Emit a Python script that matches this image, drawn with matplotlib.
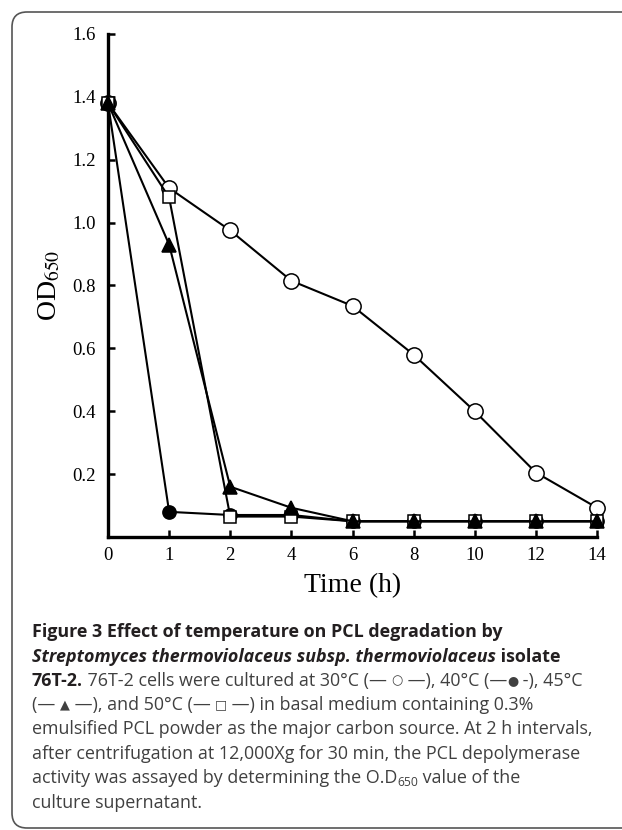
import matplotlib
matplotlib.use('Agg')
import matplotlib.pyplot as plt
from matplotlib.patches import FancyBboxPatch

# time points are drawn at equal spacing (categorical axis)
time_labels = ['0', '1', '2', '4', '6', '8', '10', '12', '14']
od_30 = [1.38, 1.11, 0.975, 0.815, 0.735, 0.58, 0.40, 0.205, 0.093]
od_40 = [1.38, 0.08, 0.07, 0.07, 0.05, 0.05, 0.05, 0.05, 0.05]
od_45 = [1.38, 0.93, 0.16, 0.093, 0.05, 0.05, 0.05, 0.05, 0.05]
od_50 = [1.38, 1.08, 0.065, 0.065, 0.05, 0.05, 0.05, 0.05, 0.05]
y_ticks = [0.2, 0.4, 0.6, 0.8, 1.0, 1.2, 1.4, 1.6]

plt.rcParams['font.family'] = 'Liberation Serif'
plt.rcParams['mathtext.fontset'] = 'stix'

W, H = 622, 830
fig = plt.figure(figsize=(W / 100, H / 100), dpi=100)
ax = fig.add_axes([108 / W, 1 - 537 / H, (597 - 108) / W, (537 - 34) / H])

xs = list(range(len(time_labels)))
common = dict(color='black', lw=1.5, mec='black', mew=1.1, clip_on=False)
ax.plot(xs, od_30, marker='o', ms=11, mfc='white', zorder=3, **common)
ax.plot(xs, od_40, marker='o', ms=9.5, mfc='black', zorder=4, **common)
ax.plot(xs, od_50, marker='s', ms=9, mfc='white', zorder=5, **common)
ax.plot(xs, od_45, marker='^', ms=9.5, mfc='black', zorder=6, **common)

ax.set_xlim(0, len(time_labels) - 1)
ax.set_ylim(0, 1.6)
ax.set_xticks(xs)
ax.set_xticklabels(time_labels)
ax.set_yticks(y_ticks)
ax.set_yticklabels(['{:.1f}'.format(v) for v in y_ticks])
ax.tick_params(direction='in', length=5, width=1.8, labelsize=13.5)
ax.tick_params(axis='y', pad=9)
ax.tick_params(axis='x', pad=7)
for s in ['top', 'right']:
    ax.spines[s].set_visible(False)
for s in ['left', 'bottom']:
    ax.spines[s].set_linewidth(2.4)

ax.set_xlabel('Time (h)', fontsize=20)
ax.xaxis.set_label_coords(0.5, -0.072)
ax.set_ylabel('OD$_{650}$', fontsize=20)
ax.yaxis.set_label_coords(-0.093, 0.5)

# frame round the figure (right side runs off the picture)
frame = FancyBboxPatch((0.12, 0.02), 7.0, 8.16,
                       boxstyle='round,pad=0,rounding_size=0.15',
                       transform=fig.dpi_scale_trans, fill=False,
                       ec='#555555', lw=1.2)
fig.add_artist(frame)

# caption
cap_fam = ['Open Sans', 'DejaVu Sans']
cap_size = 12.9
sym = cap_size * 0.72
dark = '#231f20'
grey = '#404040'
renderer = fig.canvas.get_renderer()


def caption_line(y_px, parts):
    x = 32 / W
    for txt, weight, style, dy, size in parts:
        col = dark if weight == 'bold' else grey
        t = fig.text(x, 1 - (y_px + dy) / H, txt, family=cap_fam, fontsize=size,
                     fontweight=weight, fontstyle=style, color=col,
                     ha='left', va='baseline')
        x += t.get_window_extent(renderer).width / W


B, N, R = 'bold', 'normal', 'normal'
c = cap_size
up = -2
caption = [
    [('Figure 3 Effect of temperature on PCL degradation by', B, R, 0, c)],
    [('Streptomyces thermoviolaceus subsp. thermoviolaceus', B, 'italic', 0, c),
     (' isolate', B, R, 0, c)],
    [('76T-2.', B, R, 0, c),
     (' 76T-2 cells were cultured at 30°C (— ', N, R, 0, c), ('○', N, R, up, sym),
     (' —), 40°C (—', N, R, 0, c), ('●', N, R, up, sym), (' -), 45°C', N, R, 0, c)],
    [('(— ', N, R, 0, c), ('▲', N, R, up, sym), (' —), and 50°C (— ', N, R, 0, c),
     ('□', N, R, up, sym), (' —) in basal medium containing 0.3%', N, R, 0, c)],
    [('emulsified PCL powder as the major carbon source. At 2 h intervals,', N, R, 0, c)],
    [('after centrifugation at 12,000Xg for 30 min, the PCL depolymerase', N, R, 0, c)],
    [('activity was assayed by determining the O.D', N, R, 0, c),
     ('650', N, R, 3, c * 0.68),
     (' value of the', N, R, 0, c)],
    [('culture supernatant.', N, R, 0, c)],
]
baselines = [637, 661.5, 686, 710, 734.5, 759, 783, 807.5]
for yb, parts in zip(baselines, caption):
    caption_line(yb, parts)

fig.savefig('out.png', dpi=100)
